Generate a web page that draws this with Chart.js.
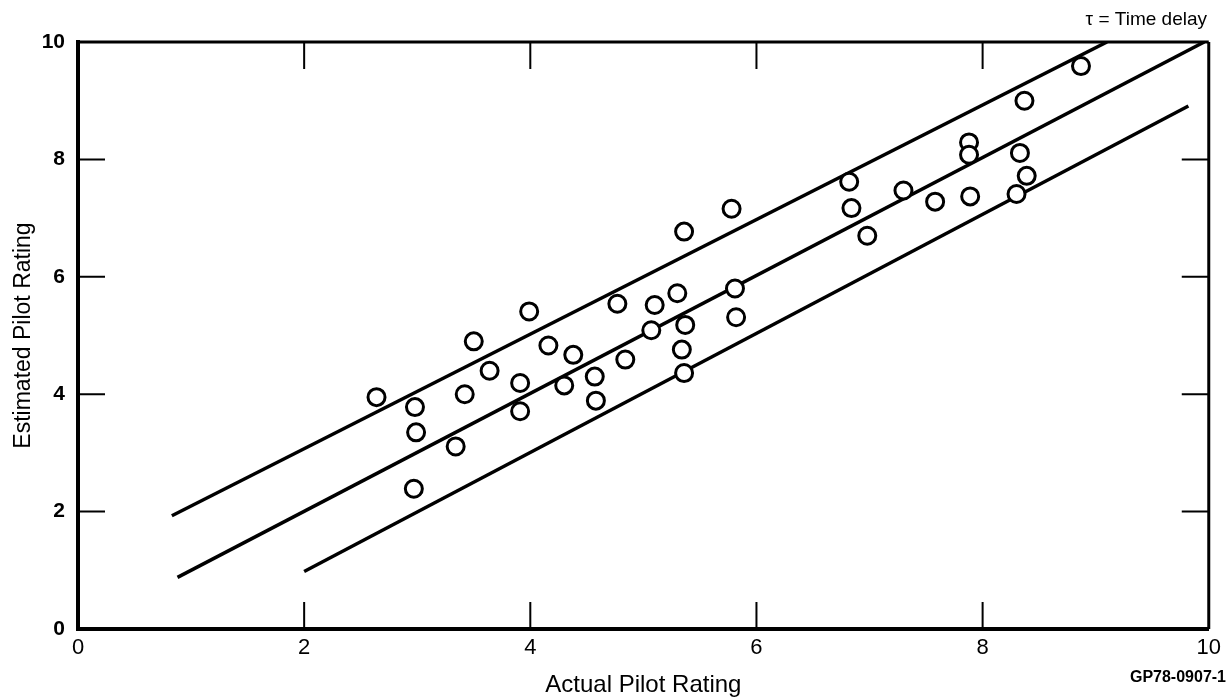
<!DOCTYPE html>
<html>
<head>
<meta charset="utf-8">
<title>Estimated vs Actual Pilot Rating</title>
<script src="https://cdn.jsdelivr.net/npm/chart.js@4.4.1/dist/chart.umd.min.js"></script>
<style>
	body { margin: 0; background: #fff; }
	#quadro { width: 1227px; height: 700px; }
</style>
</head>
<body>
<div id="quadro">
	<canvas id="graficoPilotRating" width="1227" height="700"></canvas>
</div>
<script>
// valores
var atual = [2.64, 2.98, 2.99, 2.97, 3.34, 3.42, 3.50, 3.64, 3.91, 3.91,
	3.99, 4.16, 4.38, 4.30, 4.57, 4.58, 4.84, 4.77, 5.10, 5.07,
	5.30, 5.37, 5.34, 5.36, 5.36, 5.78, 5.81, 5.82, 6.82, 6.84,
	6.98, 7.30, 7.58, 7.88, 7.88, 7.89, 8.37, 8.33, 8.39, 8.30, 8.87];
var estimado = [3.95, 3.78, 3.35, 2.39, 3.11, 4.00, 4.90, 4.40, 4.19, 3.71,
	5.41, 4.83, 4.67, 4.15, 4.30, 3.89, 4.59, 5.54, 5.52, 5.09,
	5.72, 5.18, 4.76, 4.36, 6.77, 7.16, 5.80, 5.31, 7.62, 7.17,
	6.70, 7.47, 7.28, 8.29, 8.08, 7.37, 9.00, 8.11, 7.72, 7.41, 9.59];

// retas: [x inicial, x final] e [y inicial, y final]
var retaSuperiorX = [0.83, 9.10], retaSuperiorY = [1.93, 10.0];
var retaCentralX = [0.88, 9.96], retaCentralY = [0.88, 10.0];
var retaInferiorX = [2.00, 9.82], retaInferiorY = [0.98, 8.91];

var marcasEixo = [0, 2, 4, 6, 8, 10];
var tituloX = 'Actual Pilot Rating';
var tituloY = 'Estimated Pilot Rating';
var notaTau = '\u03c4 = Time delay';
var codigoFigura = 'GP78-0907-1';

var FONTE = '"Liberation Sans", Arial, Helvetica, sans-serif';

function pares(xs, ys) {
	return xs.map(function(x, i) { return { x: x, y: ys[i] }; });
}

function reta(xs, ys) {
	return {
		data: pares(xs, ys),
		showLine: true,
		borderColor: '#000',
		borderWidth: 3.5,
		pointRadius: 0,
		fill: false
	};
}

// marcas para dentro em todos os lados + moldura de cima e da direita
var pluginMoldura = {
	id: 'moldura',
	beforeDatasetsDraw: function(chart) {
		var ctx = chart.ctx, area = chart.chartArea;
		var sx = chart.scales.x, sy = chart.scales.y;
		var tam = 27;
		ctx.save();
		ctx.strokeStyle = '#000';
		ctx.lineWidth = 2;
		marcasEixo.forEach(function(v) {
			if (v === 0 || v === 10) return;
			var px = sx.getPixelForValue(v);
			var py = sy.getPixelForValue(v);
			ctx.beginPath();
			ctx.moveTo(px, area.bottom); ctx.lineTo(px, area.bottom - tam);
			ctx.moveTo(px, area.top); ctx.lineTo(px, area.top + tam);
			ctx.moveTo(area.left, py); ctx.lineTo(area.left + tam, py);
			ctx.moveTo(area.right, py); ctx.lineTo(area.right - tam, py);
			ctx.stroke();
		});
		ctx.lineWidth = 3;
		ctx.beginPath();
		ctx.moveTo(area.left, area.top); ctx.lineTo(area.right, area.top);
		ctx.moveTo(area.right, area.top); ctx.lineTo(area.right, area.bottom);
		ctx.stroke();
		ctx.restore();
	},
	afterDraw: function(chart) {
		var ctx = chart.ctx;
		ctx.save();
		ctx.fillStyle = '#000';
		ctx.textAlign = 'right';
		ctx.textBaseline = 'middle';
		ctx.font = '19px ' + FONTE;
		ctx.fillText(notaTau, 1207, 20);
		ctx.font = 'bold 16px ' + FONTE;
		ctx.fillText(codigoFigura, 1226, 678);
		ctx.restore();
	}
};

new Chart(document.getElementById('graficoPilotRating').getContext('2d'), {
	type: 'scatter',
	data: {
		datasets: [{
			data: pares(atual, estimado),
			pointRadius: 8.5,
			pointBorderWidth: 3,
			pointBorderColor: '#000',
			pointBackgroundColor: '#fff'
		},
		reta(retaSuperiorX, retaSuperiorY),
		reta(retaCentralX, retaCentralY),
		reta(retaInferiorX, retaInferiorY)]
	},
	options: {
		responsive: false,
		animation: false,
		layout: { padding: { top: 42, right: 17, left: 0, bottom: 0 } },
		plugins: { legend: { display: false }, tooltip: { enabled: false } },
		scales: {
			x: {
				type: 'linear', min: 0, max: 10,
				afterFit: function(scale) { scale.height = 71; },
				grid: { display: false, drawTicks: false },
				border: { display: true, color: '#000', width: 4 },
				ticks: { stepSize: 2, padding: 6, color: '#000', font: { family: FONTE, size: 22 } },
				title: { display: true, text: tituloX, color: '#000', font: { family: FONTE, size: 24 }, padding: { top: 0, bottom: 0 } }
			},
			y: {
				type: 'linear', min: 0, max: 10,
				afterFit: function(scale) { scale.width = 78; },
				grid: { display: false, drawTicks: false },
				border: { display: true, color: '#000', width: 4 },
				ticks: { stepSize: 2, padding: 13, color: '#000', font: { family: FONTE, size: 21, weight: 'bold' } },
				title: { display: true, text: tituloY, color: '#000', font: { family: FONTE, size: 23 }, padding: { top: 10, bottom: 0 } }
			}
		}
	},
	plugins: [pluginMoldura]
});
</script>
</body>
</html>
